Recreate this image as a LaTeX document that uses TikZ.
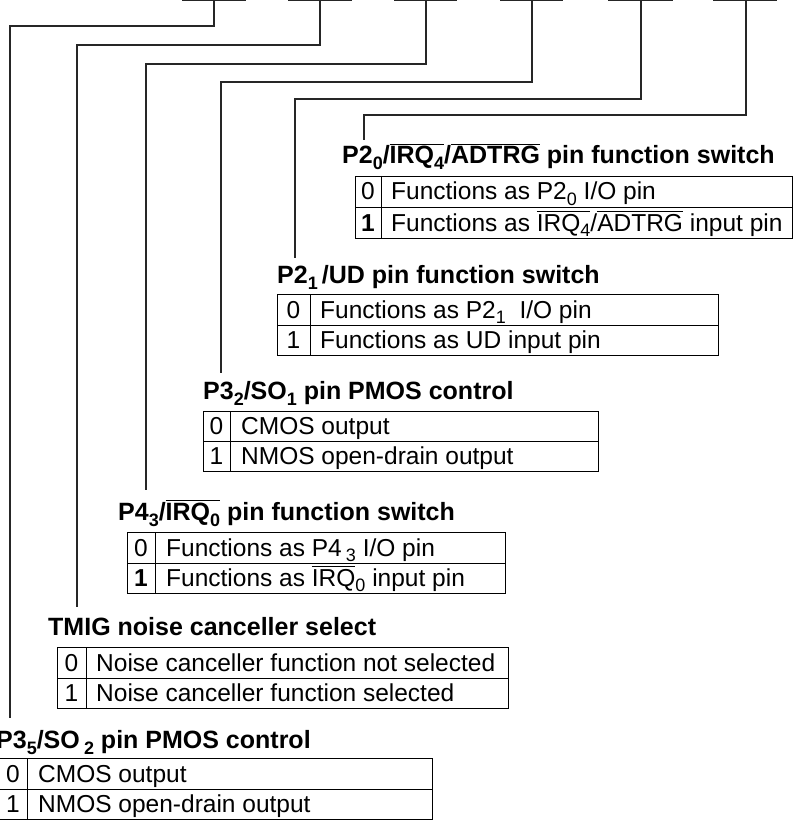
\documentclass[tikz,border=0pt]{standalone}
\usepackage{fontspec}
\setmainfont{Liberation Sans}
\newcommand\ovl[1]{\vbox{\hrule height 1pt\kern 1.6pt\hbox{#1}}}
\newcommand\sbs[1]{\raisebox{-0.24em}{\fontsize{18}{18}\selectfont #1}}
\tikzset{
  conn/.style={line width=1.1pt, black!85},
  frame/.style={line width=0.9pt, black},
  ttl/.style={anchor=base west, inner sep=0pt, font=\fontsize{25}{29}\selectfont\bfseries},
  txt/.style={anchor=base west, inner sep=0pt, font=\fontsize{24.5}{28}\selectfont},
  num/.style={anchor=base, inner sep=0pt, font=\fontsize{24.5}{28}\selectfont},
}
\begin{document}
\begin{tikzpicture}[x=1pt,y=-1pt]
\useasboundingbox (0,0) rectangle (797,834);
% top bars
\foreach \a/\b in {182/246,288/352,394/457,500/563,608/673,713/777}
  \draw[conn] (\a,0.5) -- (\b,0.5);
% bar centre coordinates
\coordinate (b1) at (214,0);
\coordinate (b2) at (320,0);
\coordinate (b3) at (426,0);
\coordinate (b4) at (532,0);
\coordinate (b5) at (641,0);
\coordinate (b6) at (746,0);
% connector ends
\coordinate (e1) at (10,718);
\coordinate (e2) at (77,607);
\coordinate (e3) at (146,490);
\coordinate (e4) at (221,373);
\coordinate (e5) at (295,258);
\coordinate (e6) at (364,140);
\draw[conn] (b1) -- ++(0,26) -| (e1);
\draw[conn] (b2) -- ++(0,45) -| (e2);
\draw[conn] (b3) -- ++(0,64) -| (e3);
\draw[conn] (b4) -- ++(0,82) -| (e4);
\draw[conn] (b5) -- ++(0,99) -| (e5);
\draw[conn] (b6) -- ++(0,115) -| (e6);

% ---- table 1
\node[ttl] (t1) at (342,164) {P2\sbs{0}/\ovl{IRQ\sbs{4}}/\ovl{ADTRG} pin function switch};
\draw[frame] (355,176) rectangle (792,238);
\draw[frame] (355,207) -- (792,207);
\draw[frame] (381,176) -- (381,238);
\node[num] (t1a) at (368,200) {0};
\node[txt] (t1b) at (391,200) {Functions as P2\sbs{0}\ I/O pin};
\node[num] (t1c) at (368,231) {\bfseries 1};
\node[txt] (t1d) at (391,231) {Functions as \ovl{IRQ\sbs{4}}/\ovl{ADTRG} input pin};

% ---- table 2
\node[ttl] (t2) at (277,283) {P2\sbs{1}\,/UD pin function switch};
\draw[frame] (277,294) rectangle (718,355);
\draw[frame] (277,325) -- (718,325);
\draw[frame] (310,294) -- (310,355);
\node[num] (t2a) at (293.5,318) {0};
\node[txt] (t2b) at (320,318) {Functions as P2\sbs{1}\ \ I/O pin};
\node[num] (t2c) at (293.5,348) {1};
\node[txt] (t2d) at (320,348) {Functions as UD input pin};

% ---- table 3
\node[ttl] (t3) at (203,399) {P3\sbs{2}/SO\sbs{1}\ pin PMOS control};
\draw[frame] (203,411) rectangle (598,471);
\draw[frame] (203,441) -- (598,441);
\draw[frame] (230,411) -- (230,471);
\node[num] (t3a) at (216.5,434) {0};
\node[txt] (t3b) at (241,434) {CMOS output};
\node[num] (t3c) at (216.5,464) {1};
\node[txt] (t3d) at (241,464) {NMOS open-drain output};

% ---- table 4
\node[ttl] (t4) at (118,520) {P4\sbs{3}/\ovl{IRQ\sbs{0}} pin function switch};
\draw[frame] (127,532) rectangle (505,593);
\draw[frame] (127,563) -- (505,563);
\draw[frame] (155,532) -- (155,593);
\node[num] (t4a) at (141,556) {0};
\node[txt] (t4b) at (166,556) {Functions as P4\,\sbs{3} I/O pin};
\node[num] (t4c) at (141,586) {\bfseries 1};
\node[txt] (t4d) at (166,586) {Functions as \ovl{IRQ}\sbs{0} input pin};

% ---- table 5
\node[ttl] (t5) at (48,635) {TMIG noise canceller select};
\draw[frame] (57,647) rectangle (508,708);
\draw[frame] (57,678) -- (508,678);
\draw[frame] (86,647) -- (86,708);
\node[num] (t5a) at (71.5,671) {0};
\node[txt] (t5b) at (96,671) {Noise canceller function not selected};
\node[num] (t5c) at (71.5,701) {1};
\node[txt] (t5d) at (96,701) {Noise canceller function selected};

% ---- table 6
\node[ttl] (t6) at (-4,748) {P3\sbs{5}/SO\,\sbs{2} pin PMOS control};
\draw[frame] (-1,758) rectangle (432,819);
\draw[frame] (-1,789) -- (432,789);
\draw[frame] (27,758) -- (27,819);
\node[num] (t6a) at (13,782) {0};
\node[txt] (t6b) at (38,782) {CMOS output};
\node[num] (t6c) at (13,812) {1};
\node[txt] (t6d) at (38,812) {NMOS open-drain output};
\end{tikzpicture}
\end{document}
